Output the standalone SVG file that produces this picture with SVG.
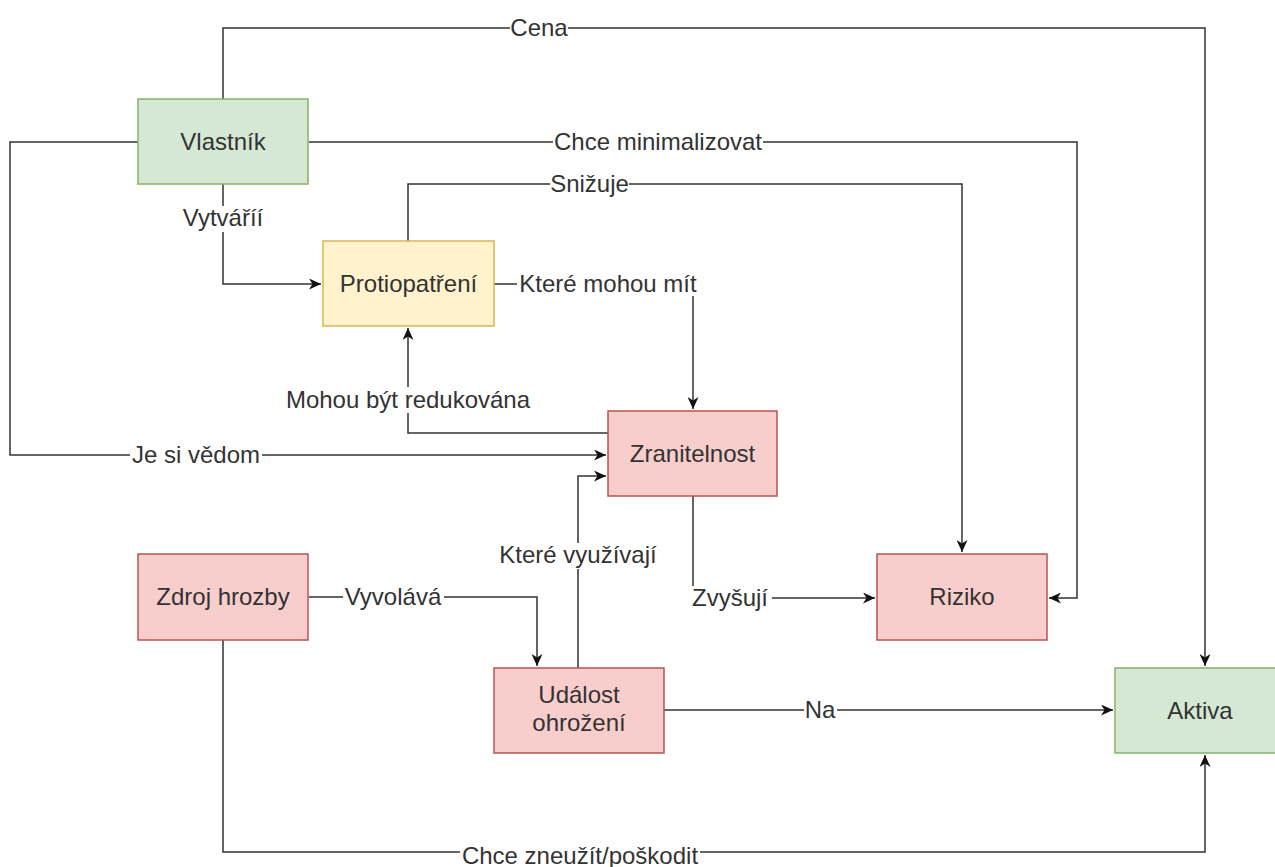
<svg xmlns="http://www.w3.org/2000/svg" width="1275" height="867" viewBox="0 0 1275 867">
<style>
.n rect{stroke-width:1.5}
.g rect{fill:#d5e8d4;stroke:#82b366}
.y rect{fill:#fff2cc;stroke:#d6b656}
.r rect{fill:#f8cecc;stroke:#b85450}
text{font-family:"Liberation Sans",Arial,sans-serif;font-size:24px;fill:#333;text-anchor:middle}
.e path{fill:none;stroke:#333;stroke-width:1.5}
.lb rect{fill:#fff;stroke:none}
</style>
<defs>
<marker id="a" markerUnits="userSpaceOnUse" markerWidth="13" markerHeight="11" viewBox="0 0 13 11" refX="12" refY="5.5" orient="auto">
<path d="M0,0 L12,5.5 L0,11 L3.5,5.5 z" fill="#111"/>
</marker>
</defs>
<rect width="1275" height="867" fill="#fff"/>
<g class="e" id="connectors">
<path d="M223,99 V28 H1205 V666" marker-end="url(#a)"/>
<path d="M309,142 H1077 V598 H1049" marker-end="url(#a)"/>
<path d="M408,241 V184 H962 V552" marker-end="url(#a)"/>
<path d="M138,142 H10 V455 H606" marker-end="url(#a)"/>
<path d="M223,184 V284 H321" marker-end="url(#a)"/>
<path d="M494,284 H693 V409" marker-end="url(#a)"/>
<path d="M608,433 H408 V328" marker-end="url(#a)"/>
<path d="M578,668 V476 H606" marker-end="url(#a)"/>
<path d="M693,496 V598 H875" marker-end="url(#a)"/>
<path d="M309,597 H537 V666" marker-end="url(#a)"/>
<path d="M664,710 H1113" marker-end="url(#a)"/>
<path d="M223,640 V852 H1205 V755" marker-end="url(#a)"/>
</g>
<g class="lb" id="edge-labels">
<rect x="510" y="16" width="58" height="24"/><text x="539" y="36">Cena</text>
<rect x="553" y="130" width="210" height="24"/><text x="658" y="150">Chce minimalizovat</text>
<rect x="550" y="172" width="79" height="24"/><text x="589.5" y="192">Snižuje</text>
<rect x="178" y="206" width="90" height="26"/><text x="223" y="226">Vytváříí</text>
<rect x="517" y="272" width="183" height="24"/><text x="608" y="292">Které mohou mít</text>
<rect x="282" y="387" width="252" height="26"/><text x="408" y="408">Mohou být redukována</text>
<rect x="130" y="443" width="132" height="24"/><text x="196" y="463">Je si vědom</text>
<rect x="500" y="543" width="156" height="26"/><text x="578" y="563">Které využívají</text>
<rect x="689" y="586" width="83" height="26"/><text x="730" y="606">Zvyšují</text>
<rect x="343" y="585" width="101" height="24"/><text x="393" y="605">Vyvolává</text>
<rect x="804" y="698" width="33" height="24"/><text x="820" y="718">Na</text>
<rect x="460" y="842" width="240" height="25"/><text x="580" y="864">Chce zneužít/poškodit</text>
</g>
<g id="vlastnik" class="n g"><rect x="138" y="99" width="170" height="85"/><text x="223" y="150">Vlastník</text></g>
<g id="protiopatreni" class="n y"><rect x="323" y="241" width="171" height="85"/><text x="408.5" y="292">Protiopatření</text></g>
<g id="zranitelnost" class="n r"><rect x="608" y="411" width="169" height="85"/><text x="692.5" y="462">Zranitelnost</text></g>
<g id="zdroj" class="n r"><rect x="138" y="554" width="170" height="86"/><text x="223" y="605">Zdroj hrozby</text></g>
<g id="riziko" class="n r"><rect x="877" y="554" width="170" height="86"/><text x="962" y="605">Riziko</text></g>
<g id="udalost" class="n r"><rect x="494" y="668" width="170" height="85"/><text x="579" y="703">Událost</text><text x="579" y="731">ohrožení</text></g>
<g id="aktiva" class="n g"><rect x="1115" y="668" width="170" height="85"/><text x="1200" y="719">Aktiva</text></g>
</svg>
